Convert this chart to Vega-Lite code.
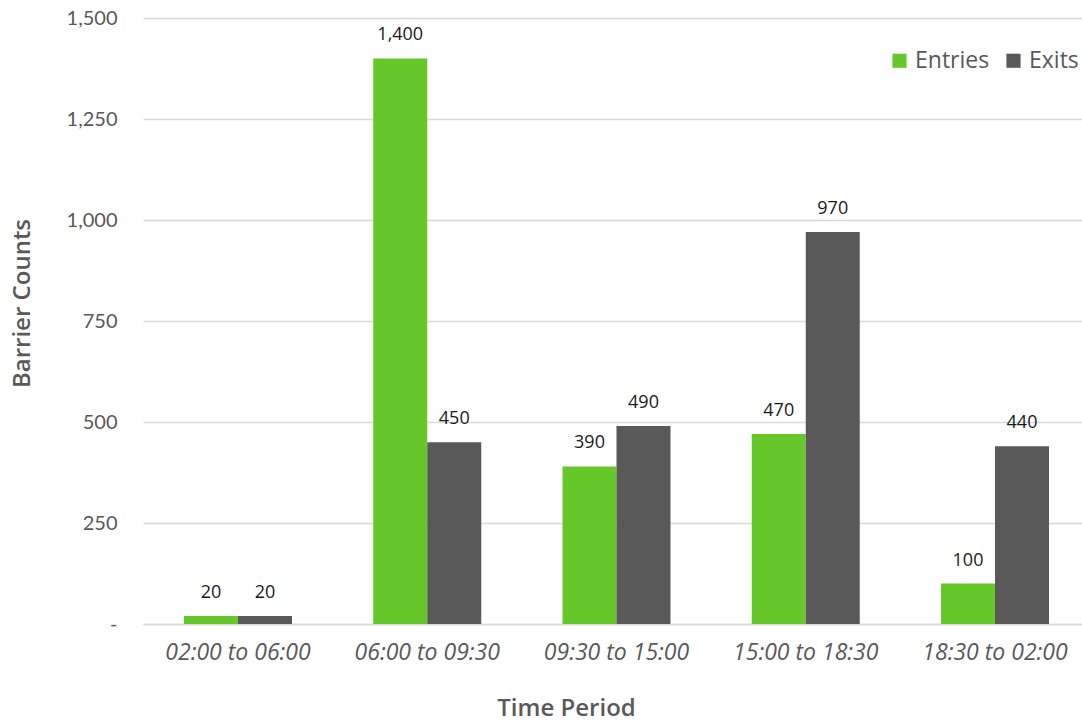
{
  "$schema": "https://vega.github.io/schema/vega-lite/v6.json",
  "autosize": {"type": "none"},
  "width": 947,
  "height": 606,
  "padding": {"left": 143, "top": 18, "right": 0, "bottom": 98},
  "background": "white",
  "config": {
    "font": "Open Sans",
    "view": {"stroke": null}
  },
  "data": {
    "values": [
      {"period": "02:00 to 06:00", "type": "Entries", "count": 20},
      {"period": "02:00 to 06:00", "type": "Exits", "count": 20},
      {"period": "06:00 to 09:30", "type": "Entries", "count": 1400},
      {"period": "06:00 to 09:30", "type": "Exits", "count": 450},
      {"period": "09:30 to 15:00", "type": "Entries", "count": 390},
      {"period": "09:30 to 15:00", "type": "Exits", "count": 490},
      {"period": "15:00 to 18:30", "type": "Entries", "count": 470},
      {"period": "15:00 to 18:30", "type": "Exits", "count": 970},
      {"period": "18:30 to 02:00", "type": "Entries", "count": 100},
      {"period": "18:30 to 02:00", "type": "Exits", "count": 440}
    ]
  },
  "encoding": {
    "x": {
      "field": "period",
      "type": "nominal",
      "sort": null,
      "scale": {"paddingInner": 0.4293, "paddingOuter": 0.2166},
      "axis": {
        "title": "Time Period",
        "titleFont": "Open Sans",
        "titleFontSize": 24,
        "titleFontWeight": 600,
        "titleColor": "#595959",
        "titleX": 423,
        "titleY": 84,
        "titleAlign": "center",
        "titleBaseline": "middle",
        "labelAngle": 0,
        "labelFont": "Open Sans",
        "labelFontSize": 23,
        "labelFontStyle": "italic",
        "labelColor": "#595959",
        "labelPadding": 17,
        "ticks": false,
        "domainColor": "#d9d9d9",
        "domainWidth": 1.5
      }
    },
    "xOffset": {"field": "type", "type": "nominal", "sort": ["Entries", "Exits"], "scale": {"paddingInner": 0}},
    "y": {
      "field": "count",
      "type": "quantitative",
      "scale": {"domain": [0, 1500]},
      "axis": {
        "title": "Barrier Counts",
        "titleFont": "Open Sans",
        "titleFontSize": 24,
        "titleFontWeight": 600,
        "titleColor": "#595959",
        "titleX": -121,
        "titleY": 285,
        "titleAlign": "center",
        "titleBaseline": "middle",
        "titleAngle": -90,
        "values": [0, 250, 500, 750, 1000, 1250, 1500],
        "labelExpr": "datum.value == 0 ? '-' : format(datum.value, ',')",
        "labelFont": "Lato",
        "labelFontSize": 20,
        "labelColor": "#595959",
        "labelPadding": 26,
        "ticks": false,
        "domain": false,
        "gridColor": "#d9d9d9",
        "gridWidth": 1.5
      }
    }
  },
  "layer": [
    {
      "mark": {"type": "bar"},
      "encoding": {
        "color": {
          "field": "type",
          "type": "nominal",
          "scale": {"domain": ["Entries", "Exits"], "range": ["#66C72B", "#595959"]},
          "legend": {
            "title": null,
            "orient": "none",
            "legendX": 745,
            "legendY": 31,
            "direction": "horizontal",
            "symbolType": "square",
            "symbolSize": 200,
            "symbolStrokeWidth": 0,
            "labelFont": "Open Sans",
            "labelFontSize": 23,
            "labelColor": "#595959",
            "labelOffset": 4,
            "columnPadding": 12
          }
        }
      }
    },
    {
      "mark": {"type": "text", "baseline": "bottom", "dy": -14, "fontSize": 18, "font": "Open Sans", "color": "#1a1a1a"},
      "encoding": {
        "text": {"field": "count", "type": "quantitative", "format": ","}
      }
    }
  ]
}
